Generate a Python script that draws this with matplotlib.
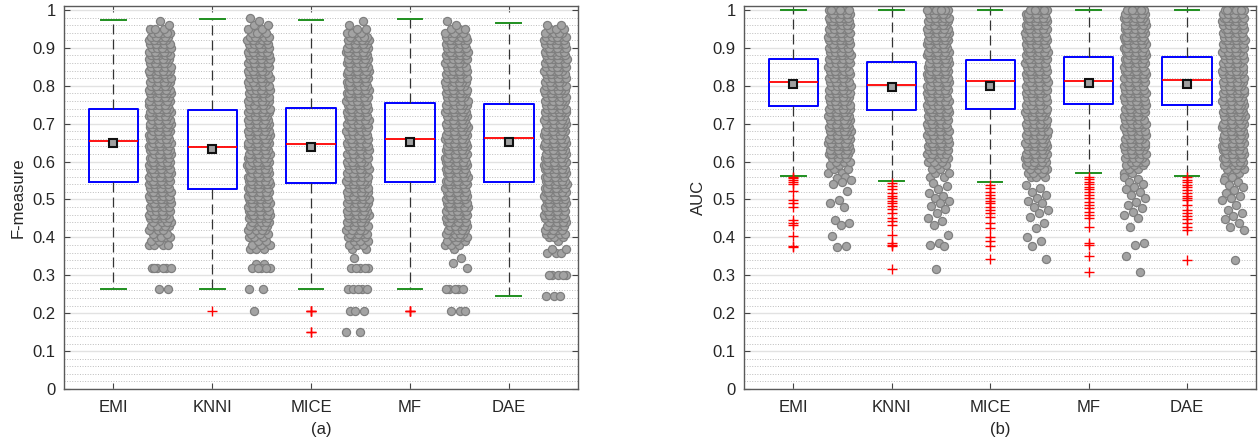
import numpy as np
import matplotlib.pyplot as plt

plt.rcParams['font.family'] = ['Liberation Sans', 'DejaVu Sans']
plt.rcParams['font.size'] = 12

methods = ['EMI', 'KNNI', 'MICE', 'MF', 'DAE']

# ---- (a) F-measure: box statistics ----
f_q1 = [0.546, 0.527, 0.543, 0.546, 0.546]
f_med = [0.654, 0.638, 0.646, 0.660, 0.663]
f_q3 = [0.740, 0.736, 0.742, 0.755, 0.752]
f_mean = [0.648, 0.634, 0.638, 0.652, 0.651]
f_lo = [0.263, 0.263, 0.263, 0.263, 0.245]
f_hi = [0.974, 0.975, 0.974, 0.975, 0.965]
f_fliers = [[], [0.207], [0.207, 0.207, 0.207, 0.150, 0.150],
            [0.207, 0.207, 0.207], []]

# scatter cloud: number of points per 0.01 level (0.36 .. 0.98), plus odd values
f_levels = np.round(np.arange(0.36, 0.985, 0.01), 2)
f_counts = [
    [0, 0, 4, 2, 4, 2, 3, 6, 4, 5] + [7] * 47 + [5, 5, 3, 1, 1, 0],
    [0, 3, 3, 2, 3, 3, 4, 5, 5, 6] + [7] * 47 + [5, 4, 2, 2, 1, 1],
    [0, 2, 3, 3, 4, 5, 5, 6, 6, 6] + [7] * 47 + [5, 4, 2, 1, 1, 0],
    [0, 1, 3, 3, 4, 5, 5, 6, 6, 6] + [7] * 47 + [6, 5, 3, 1, 1, 0],
    [3, 2, 0, 1, 3, 4, 5, 5, 6, 6] + [7] * 47 + [6, 5, 3, 2, 0, 0],
]
f_extra = [
    [0.32] * 6 + [0.263] * 2,
    [0.33, 0.33] + [0.32] * 5 + [0.263] * 2,
    [0.345] + [0.32] * 5 + [0.263] * 5,
    [0.345, 0.332, 0.32] + [0.263] * 5,
    [0.30] * 5 + [0.245] * 3,
]

# ---- (b) AUC ----
a_q1 = [0.746, 0.736, 0.739, 0.751, 0.749]
a_med = [0.811, 0.801, 0.812, 0.813, 0.816]
a_q3 = [0.870, 0.862, 0.869, 0.877, 0.875]
a_mean = [0.804, 0.796, 0.800, 0.808, 0.806]
a_lo = [0.563, 0.550, 0.546, 0.570, 0.563]
a_hi = [1.0, 1.0, 1.0, 1.0, 1.0]
a_fliers = [
    [0.560, 0.556, 0.552, 0.547, 0.541, 0.523, 0.499, 0.492, 0.479, 0.446,
     0.439, 0.433, 0.404, 0.377, 0.374],
    [0.543, 0.536, 0.527, 0.518, 0.509, 0.503, 0.497, 0.490, 0.483, 0.474,
     0.465, 0.450, 0.442, 0.433, 0.406, 0.384, 0.380, 0.376, 0.316],
    [0.538, 0.530, 0.521, 0.512, 0.503, 0.497, 0.490, 0.479, 0.472, 0.464,
     0.453, 0.437, 0.424, 0.402, 0.391, 0.377, 0.343],
    [0.560, 0.553, 0.547, 0.541, 0.534, 0.527, 0.521, 0.512, 0.503, 0.494,
     0.486, 0.477, 0.468, 0.459, 0.450, 0.428, 0.384, 0.380, 0.351, 0.310],
    [0.559, 0.552, 0.545, 0.538, 0.532, 0.525, 0.518, 0.508, 0.503, 0.499,
     0.486, 0.472, 0.465, 0.457, 0.448, 0.439, 0.428, 0.420, 0.340],
]
a_levels = np.round(np.arange(0.56, 1.005, 0.01), 2)
a_counts = [
    [0, 2, 2, 2, 3, 4] + [7] * 39,
    [2, 2, 2, 2, 3, 4, 5, 6] + [7] * 37,
    [3, 3, 4, 4, 5] + [7] * 40,
    [0, 2, 2, 3, 4, 5] + [7] * 39,
    [2, 2, 3, 4, 5] + [7] * 40,
]
a_extra = [[], [], [], [], []]


def draw_panel(ax, q1, med, q3, mean, lo, hi, fliers, levels, counts, extra,
               ylabel, xlabel):
    pos = np.arange(1, len(methods) + 1)
    stats = [dict(q1=q1[i], med=med[i], q3=q3[i], mean=mean[i],
                  whislo=lo[i], whishi=hi[i], fliers=fliers[i])
             for i in range(len(methods))]
    ax.bxp(stats, positions=pos, widths=0.5, capwidths=0.25, showmeans=True,
           boxprops=dict(color='#0000ff', lw=1.4),
           medianprops=dict(color='#ff0000', lw=1.3),
           whiskerprops=dict(color='#333333', lw=0.9, ls=(0, (8, 4))),
           capprops=dict(color='#1f8f1f', lw=1.4),
           meanprops=dict(marker='s', markerfacecolor='#a0a0a0',
                          markeredgecolor='#111111', markersize=6, mew=1.5),
           flierprops=dict(marker='+', markeredgecolor='#ff0000',
                           markersize=6.5, mew=1.0))

    # jittered cloud of all values, to the right of each box
    for i in range(len(methods)):
        vals = np.concatenate([np.repeat(levels, counts[i]), extra[i], fliers[i]])
        jit = ((np.arange(len(vals)) * 0.6180339887 + 0.13 * i) % 1 - 0.5) * 0.23
        ax.scatter(pos[i] + 0.47 + jit, vals, s=34, c='#a3a3a3',
                   edgecolors='#7f7f7f', linewidths=0.9, zorder=2)

    ax.set_xlim(0.5, 5.7)
    ax.set_ylim(0, 1.01)
    ax.set_xticks(pos)
    ax.set_xticklabels(methods)
    yt = np.round(np.arange(0, 1.05, 0.1), 1)
    ax.set_yticks(yt)
    ax.set_yticklabels([f'{v:g}' for v in yt])
    ax.set_yticks(np.round(np.arange(0, 1.01, 0.02), 2), minor=True)
    ax.tick_params(which='major', direction='in', top=True, right=True,
                   length=4, width=0.8, color='#444444', labelcolor='#262626')
    ax.tick_params(axis='x', pad=8)
    ax.tick_params(axis='y', pad=6)
    ax.tick_params(which='minor', length=0)
    ax.set_axisbelow(True)
    ax.yaxis.grid(True, which='major', color='#e2e2e2', lw=1.0, ls='-')
    ax.yaxis.grid(True, which='minor', color='#bdbdbd', lw=0.7, ls=':')
    for sp in ax.spines.values():
        sp.set_color('#5a5a5a')
        sp.set_linewidth(1.0)
    ax.set_ylabel(ylabel, color='#262626', labelpad=5)
    ax.set_xlabel(xlabel, color='#262626', labelpad=5)


fig = plt.figure(figsize=(12.59, 4.45), dpi=100)
ax1 = fig.add_axes([64 / 1259, 56 / 445, 514 / 1259, 382.8 / 445])
ax2 = fig.add_axes([744 / 1259, 56 / 445, 512 / 1259, 382.8 / 445])

draw_panel(ax1, f_q1, f_med, f_q3, f_mean, f_lo, f_hi, f_fliers,
           f_levels, f_counts, f_extra, 'F-measure', '(a)')
draw_panel(ax2, a_q1, a_med, a_q3, a_mean, a_lo, a_hi, a_fliers,
           a_levels, a_counts, a_extra, 'AUC', '(b)')

fig.savefig('out.png', dpi=100)
